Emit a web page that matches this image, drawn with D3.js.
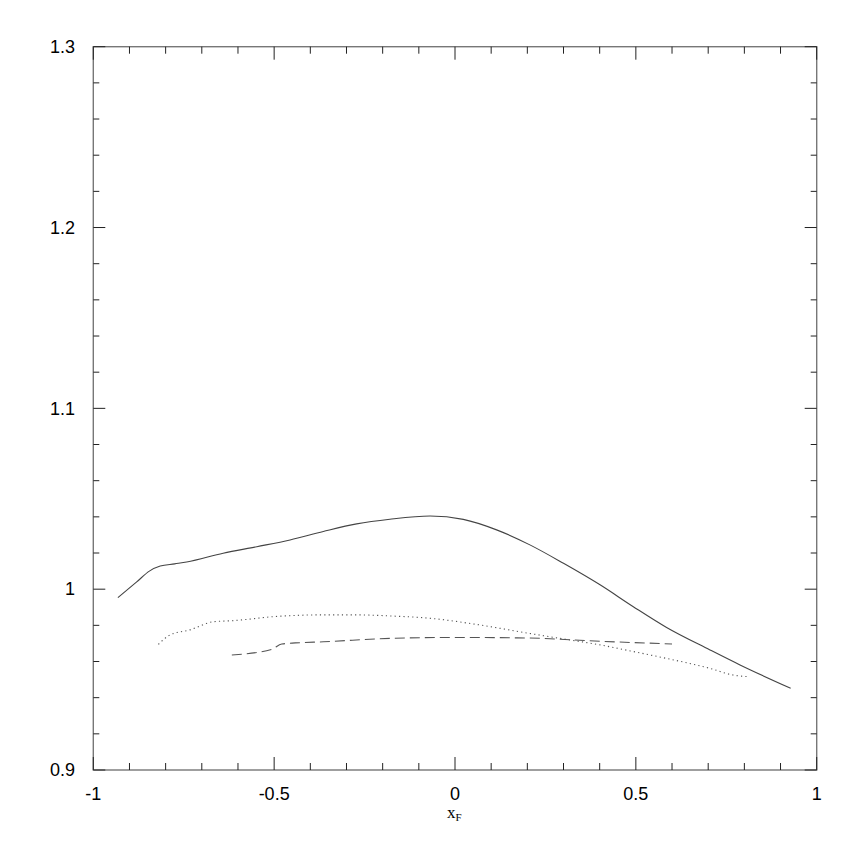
<!DOCTYPE html>
<html>
<head>
<meta charset="utf-8">
<script src="https://cdn.jsdelivr.net/npm/d3@7"></script>
<style>
  body { margin: 0; background: #fff; }
  svg text { font-family: "Liberation Sans", Arial, sans-serif; }
</style>
</head>
<body>
<svg id="chart" width="862" height="862"></svg>
<script>
// data
const solidLine = [
  [-0.932, 0.9953], [-0.88, 1.0040], [-0.845, 1.0100], [-0.815, 1.0128], [-0.775, 1.0140],
  [-0.742, 1.0150], [-0.641, 1.0199], [-0.548, 1.0235], [-0.456, 1.0272], [-0.364, 1.0319],
  [-0.272, 1.0361], [-0.180, 1.0387], [-0.069, 1.0405], [0.023, 1.0386], [0.115, 1.0328],
  [0.207, 1.0245], [0.300, 1.0143], [0.401, 1.0024], [0.493, 0.9903], [0.585, 0.9788],
  [0.705, 0.9664], [0.788, 0.9581], [0.928, 0.9452]
];
const dottedLine = [
  [-0.820, 0.9695], [-0.788, 0.9747], [-0.733, 0.9775], [-0.668, 0.9820], [-0.613, 0.9826],
  [-0.502, 0.9848], [-0.364, 0.9858], [-0.272, 0.9858], [-0.180, 0.9852], [-0.069, 0.9839],
  [0.069, 0.9802], [0.207, 0.9755], [0.318, 0.9719], [0.401, 0.9692], [0.493, 0.9655],
  [0.585, 0.9617], [0.705, 0.9562], [0.769, 0.9525], [0.811, 0.9516]
];
const dashedLine = [
  [-0.617, 0.9636], [-0.507, 0.9667], [-0.479, 0.9697], [-0.429, 0.9704], [-0.364, 0.9709],
  [-0.180, 0.9728], [0.0, 0.9733], [0.2, 0.9730], [0.4, 0.9712], [0.6, 0.9697]
];
const xTickLabels = [-1, -0.5, 0, 0.5, 1];
const yTickLabels = [0.9, 1, 1.1, 1.2, 1.3];

const svg = d3.select('#chart');
const mLeft = 93.3, mRight = 816.7, mTop = 46.7, mBottom = 770;

const x = d3.scaleLinear().domain([-1, 1]).range([mLeft, mRight]);
const y = d3.scaleLinear().domain([0.9, 1.3]).range([mBottom, mTop]);

// frame
svg.append('rect')
  .attr('x', mLeft).attr('y', mTop)
  .attr('width', mRight - mLeft).attr('height', mBottom - mTop)
  .attr('fill', 'none').attr('stroke', '#777').attr('stroke-width', 1.4);

// ticks on all four sides, pointing inward
const g = svg.append('g').attr('stroke', '#222').attr('stroke-width', 1);
d3.range(-1, 1.0001, 0.1).forEach(v => {
  const major = Math.abs(v * 2 - Math.round(v * 2)) < 1e-6;
  const len = major ? 13 : 7;
  g.append('line').attr('x1', x(v)).attr('x2', x(v)).attr('y1', mBottom).attr('y2', mBottom - len);
  g.append('line').attr('x1', x(v)).attr('x2', x(v)).attr('y1', mTop).attr('y2', mTop + len);
});
d3.range(0.9, 1.3001, 0.02).forEach(v => {
  const major = Math.abs(v * 10 - Math.round(v * 10)) < 1e-6;
  const len = major ? 12 : 6;
  g.append('line').attr('y1', y(v)).attr('y2', y(v)).attr('x1', mLeft).attr('x2', mLeft + len);
  g.append('line').attr('y1', y(v)).attr('y2', y(v)).attr('x1', mRight).attr('x2', mRight - len);
});

// tick labels
svg.append('g').selectAll('text').data(xTickLabels).join('text')
  .attr('x', d => x(d)).attr('y', 800)
  .attr('text-anchor', 'middle').attr('font-size', 18)
  .text(d => d);
svg.append('g').selectAll('text').data(yTickLabels).join('text')
  .attr('x', 75).attr('y', d => y(d)).attr('dy', '0.35em')
  .attr('text-anchor', 'end').attr('font-size', 18)
  .text(d => d);

// x axis title
const xt = svg.append('text')
  .attr('x', 447).attr('y', 818)
  .attr('font-size', 17)
  .style('font-family', '"Liberation Serif", "DejaVu Serif", serif');
xt.append('tspan').text('x');
xt.append('tspan').attr('font-size', 11).attr('dy', 3).text('F');

// curves
const line = d3.line().x(d => x(d[0])).y(d => y(d[1])).curve(d3.curveMonotoneX);
svg.append('path').datum(solidLine).attr('d', line)
  .attr('fill', 'none').attr('stroke', '#444').attr('stroke-width', 1.1);
svg.append('path').datum(dottedLine).attr('d', line)
  .attr('fill', 'none').attr('stroke', '#555').attr('stroke-width', 1.1)
  .attr('stroke-dasharray', '1.2,3.2');
svg.append('path').datum(dashedLine).attr('d', line)
  .attr('fill', 'none').attr('stroke', '#555').attr('stroke-width', 1.1)
  .attr('stroke-dasharray', '10,5');
</script>
</body>
</html>
